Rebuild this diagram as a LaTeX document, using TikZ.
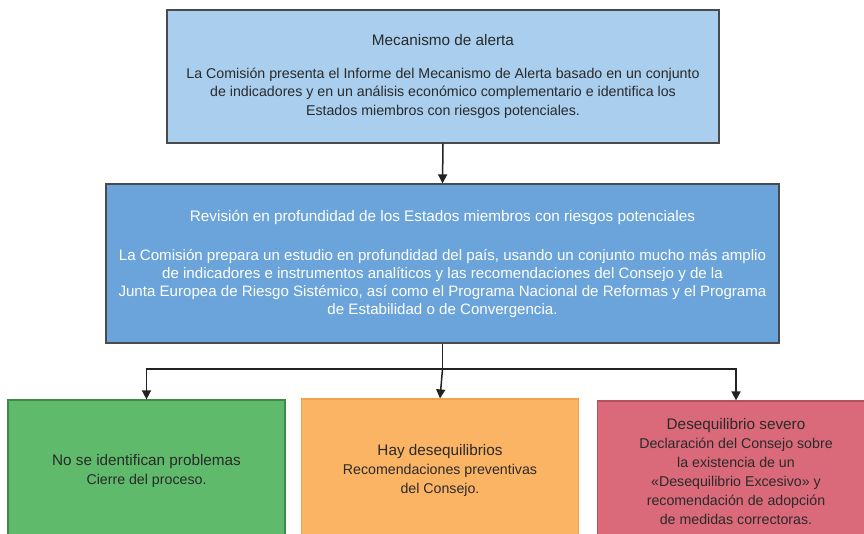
\documentclass[tikz,border=0pt]{standalone}
\usepackage{fontspec}
\setmainfont{Liberation Sans}
\usepackage{tikz}
\usetikzlibrary{arrows.meta,positioning}
\usepackage{xcolor}
\definecolor{alertfill}{HTML}{A9CEEE}
\definecolor{reviewfill}{HTML}{6AA4DA}
\definecolor{okfill}{HTML}{5FBB6B}
\definecolor{okedge}{HTML}{3E8A48}
\definecolor{warnfill}{HTML}{FBB464}
\definecolor{warnedge}{HTML}{F2A24A}
\definecolor{badfill}{HTML}{DA6A7A}
\definecolor{badedge}{HTML}{B8505F}
\definecolor{edge}{HTML}{4A4A4A}
\definecolor{ink}{HTML}{2A2A2A}
\definecolor{link}{HTML}{222222}
\newcommand{\boxtitle}[1]{{\fontsize{15.3}{18.5}\selectfont #1}}

\begin{document}
\begin{tikzpicture}[
  x=1pt, y=-1pt,
  every node/.style={font=\fontsize{14.2}{18.5}\selectfont, align=center, text=ink},
  box/.style={draw=edge, line width=1.2pt, inner sep=0pt},
  outcome/.style={box, minimum width=277pt, minimum height=142pt, font=\fontsize{14.2}{19}\selectfont},
  link/.style={draw=link, line width=1.5pt},
  arr/.style={link, -{Triangle[width=9pt, length=9pt]}}
]
\useasboundingbox (0,0) rectangle (864,533);

% Alert mechanism and in-depth review
\node[box, fill=alertfill, minimum width=552pt, minimum height=133pt] (alerta) at (443,76.5)
  {\boxtitle{Mecanismo de alerta}\\[14pt]
   La Comisión presenta el Informe del Mecanismo de Alerta basado en un conjunto\\
   de indicadores y en un análisis económico complementario e identifica los\\
   Estados miembros con riesgos potenciales.};
\node[box, fill=reviewfill, text=white, minimum width=673pt, minimum height=159pt,
  font=\fontsize{15.1}{18}\selectfont] (revision) at (442.5,263.5)
  {\boxtitle{Revisión en profundidad de los Estados miembros con riesgos potenciales}\\[21pt]
   La Comisión prepara un estudio en profundidad del país, usando un conjunto mucho más amplio\\
   de indicadores e instrumentos analíticos y las recomendaciones del Consejo y de la\\
   Junta Europea de Riesgo Sistémico, así como el Programa Nacional de Reformas y el Programa\\
   de Estabilidad o de Convergencia.};

% Three possible outcomes
\node[outcome, draw=okedge, fill=okfill] (sinproblemas) at (146.5,471)
  {\boxtitle{No se identifican problemas}\\ Cierre del proceso.};
\node[outcome, draw=warnedge, fill=warnfill] (desequilibrios) at (440,470)
  {\boxtitle{Hay desequilibrios}\\ Recomendaciones preventivas\\ del Consejo.};
\node[outcome, draw=badedge, fill=badfill] (severo) at (736,472)
  {\boxtitle{Desequilibrio severo}\\ Declaración del Consejo sobre\\ la existencia de un\\
   «Desequilibrio Excesivo» y\\ recomendación de adopción\\ de medidas correctoras.};

\coordinate (split) at (revision.south |- 0,369);

\draw[arr] (alerta.south) -- (revision.north);
\draw[link] (revision.south) -- (split);
\draw[arr] (split) -| (sinproblemas.north);
\draw[arr] (split) -- (desequilibrios.north);
\draw[arr] (split) -| (severo.north);
\end{tikzpicture}
\end{document}
